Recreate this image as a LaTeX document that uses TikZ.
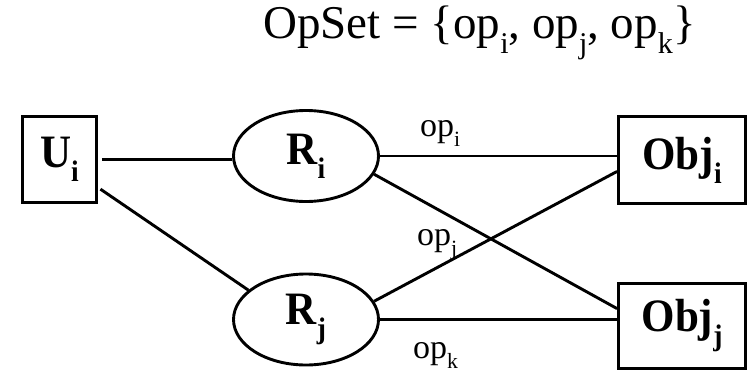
\documentclass[tikz,border=0pt]{standalone}
\usepackage{fontspec}
\setmainfont{Liberation Serif}
\usepackage{graphicx}
\usetikzlibrary{shapes.geometric}
\newcommand\sbs[1]{\raisebox{-0.3em}{\scalebox{0.64}{#1}}}
\newcommand\tallx[1]{\scalebox{1}[1.08]{#1}}
\tikzset{
  conn/.style={line width=2.9pt},
  boxnode/.style={draw, line width=2.9pt, rectangle, inner sep=0pt,
    font=\fontsize{43}{50}\selectfont\bfseries},
  rolenode/.style={draw, line width=2.9pt, ellipse, inner sep=0pt,
    minimum width=145pt, minimum height=91pt,
    font=\fontsize{43}{50}\selectfont\bfseries},
  oplabel/.style={inner sep=0pt, anchor=base west, font=\fontsize{34}{40}\selectfont}
}
\begin{document}
\begin{tikzpicture}[x=1pt,y=1pt]
\useasboundingbox (0,0) rectangle (751,373);
\node[inner sep=0pt, anchor=base west, font=\fontsize{47}{56}\selectfont] (title) at (263,334)
  {OpSet = \{op\sbs{i}, op\sbs{j}, op\sbs{k}\}};
\node[boxnode, minimum width=74pt, minimum height=86pt] (U) at (59.5,213.5) {\tallx{U\sbs{i}}};
\node[rolenode] (Ri) at (306,217) {\tallx{R\sbs{i}}};
\node[rolenode] (Rj) at (306,53.5) {\tallx{R\sbs{j}}};
\node[boxnode, minimum width=127pt, minimum height=87pt] (Obji) at (682,213) {\tallx{Obj\sbs{i}}};
\node[boxnode, minimum width=127pt, minimum height=85pt] (Objj) at (682,47) {\tallx{Obj\sbs{j}}};
\draw[conn, shorten <=4pt] (U.east) -- (U.east -| Ri.west);
\draw[conn, shorten <=3pt] (U.-36) -- (Rj.153);
\draw[conn] (Ri.east) -- (Ri.east -| Obji.west);
\draw[conn] (Ri.-15) -- (Objj.165);
\draw[conn] (Rj.15) -- (Obji.190);
\draw[conn] (Rj.east) -- (Rj.east -| Objj.west);
\node[oplabel] (opi) at (420,237) {op\sbs{i}};
\node[oplabel] (opj) at (417,128) {op\sbs{j}};
\node[oplabel] (opk) at (413,15) {op\sbs{k}};
\end{tikzpicture}
\end{document}
